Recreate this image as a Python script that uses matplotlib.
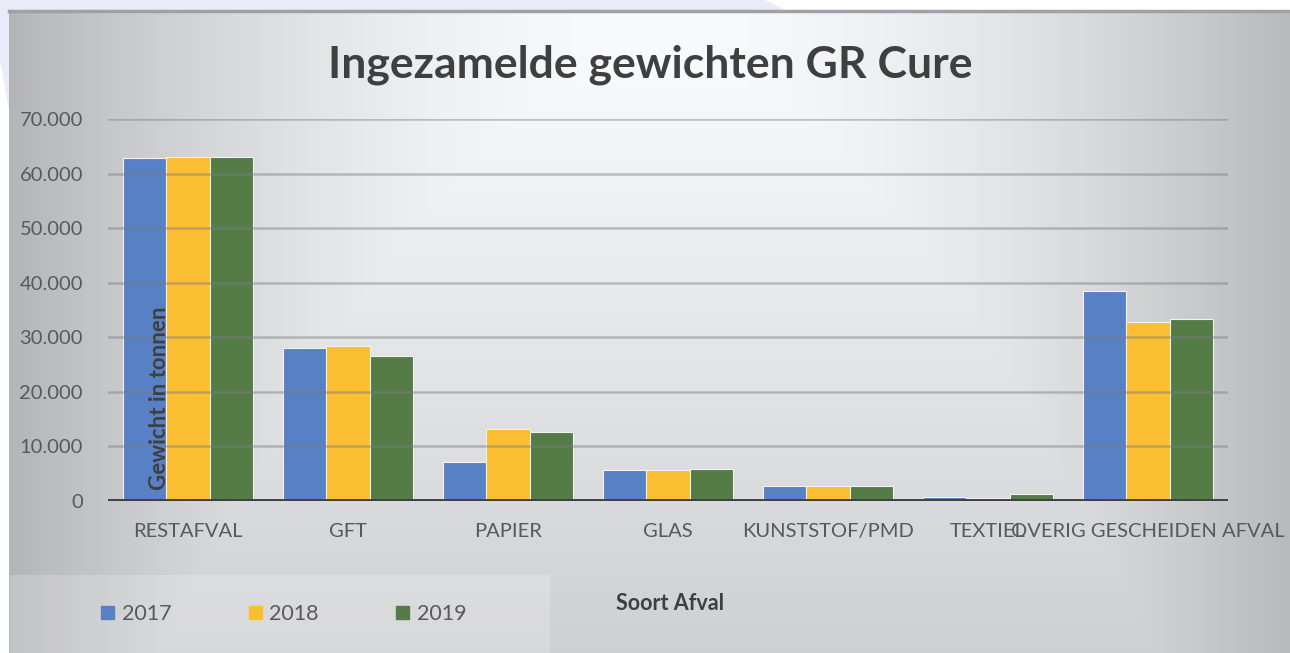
#!/usr/bin/env python3

import matplotlib
matplotlib.use("Agg")
import matplotlib.pyplot as plt
import numpy as np
from matplotlib.patches import Rectangle, Polygon
from matplotlib.ticker import FuncFormatter

categories = ["RESTAFVAL", "GFT", "PAPIER", "GLAS", "KUNSTSTOF/PMD", "TEXTIEL",
              "OVERIG GESCHEIDEN AFVAL"]
years = ["2017", "2018", "2019"]
w2017 = [62800, 28000, 7100, 5700, 2800, 700, 38500]
w2018 = [63000, 28400, 13200, 5600, 2800, 600, 32800]
w2019 = [63000, 26600, 12600, 5900, 2800, 1200, 33400]
yticks = [0, 10000, 20000, 30000, 40000, 50000, 60000, 70000]

colors = ["#5880c4", "#fbbe32", "#557c46"]
W, H = 1290, 653

plt.rcParams["font.family"] = ["Lato", "DejaVu Sans"]

fig = plt.figure(figsize=(W / 100, H / 100), dpi=100)

# achtergrond: wit met paarse banen, grijs verloop voor het paneel
bg = fig.add_axes([0, 0, 1, 1])
bg.set_xlim(0, W)
bg.set_ylim(H, 0)
bg.axis("off")
xx, yy = np.meshgrid(np.arange(W), np.arange(H))
dh = 0.25 * np.abs((xx - 660) / 620.0) ** 1.8
dv = 0.17 * np.clip((yy - 60) / 600.0, 0, None)
v = np.clip(0.99 - np.maximum(dh, dv), 0, 1)
img = np.dstack([v * 0.985, v * 0.99, v * 1.0])
img[(yy < 10) | (xx < 9)] = 1.0
bg.imshow(img, extent=(0, W, H, 0), aspect="auto", zorder=0)
lav = "#e9ecf8"
bg.add_patch(Polygon([(0, 0), (765, 0), (785, 10), (9, 10), (9, 110), (0, 60)],
                     closed=True, color=lav, lw=0, zorder=1))
bg.plot([9, W], [11, 11], color="#9ea2a6", lw=2.5, zorder=2)
bg.add_patch(Rectangle((10, 575), 540, 78, color="white", alpha=0.2, lw=0, zorder=1))

ax = fig.add_axes([108 / W, 152 / H, 1120 / W, 382 / H])
ax.patch.set_alpha(0)

x = np.arange(len(categories))
bw = 0.27
for i, (vals, c, lab) in enumerate(zip([w2017, w2018, w2019], colors, years)):
    ax.bar(x + (i - 1) * bw, vals, bw, color=c, edgecolor="#f2f2f2", linewidth=0.8,
           label=lab, zorder=2)

ax.set_xlim(-0.5, len(categories) - 0.5)
ax.set_ylim(0, 70000)
ax.set_yticks(yticks)
ax.yaxis.set_major_formatter(FuncFormatter(lambda v, p: "{:,.0f}".format(v).replace(",", ".")))
ax.set_xticks(x)
ax.set_xticklabels(categories)
ax.tick_params(axis="both", length=0, labelsize=14.5, colors="#595959")
ax.tick_params(axis="y", pad=18)
ax.tick_params(axis="x", pad=16)
ax.grid(axis="y", color="#7a7c7e", alpha=0.45, linewidth=1.8, zorder=3)
ax.set_axisbelow(False)
for s in ax.spines.values():
    s.set_visible(False)
ax.axhline(0, color="#3f3f3f", linewidth=3.5, zorder=4)

fig.text(650 / W, 1 - 65 / H, "Ingezamelde gewichten GR Cure", ha="center", va="center",
         fontsize=32, fontweight="bold", color="#3f3f3f")
fig.text(160 / W, 1 - 398 / H, "Gewicht in tonnen", rotation=90, ha="center", va="center",
         fontsize=16, fontweight="bold", color="#3f3f3f", zorder=5)
fig.text(670 / W, 1 - 604 / H, "Soort Afval", ha="center", va="center",
         fontsize=15.5, fontweight="bold", color="#3f3f3f")

handles = [Rectangle((0, 0), 1, 1, color=c) for c in colors]
fig.legend(handles, years, loc="center left", bbox_to_anchor=(82 / W, 1 - 614 / H),
           ncol=3, frameon=False, fontsize=15.5, labelcolor="#595959",
           handlelength=0.6, handleheight=0.6, handletextpad=0.35, columnspacing=3.6)

fig.savefig("out.png", dpi=100)
